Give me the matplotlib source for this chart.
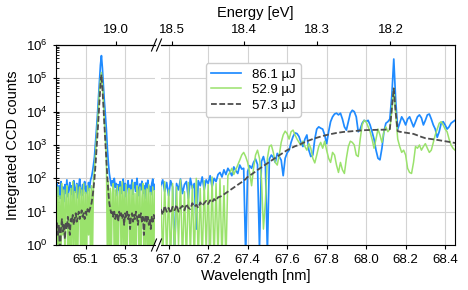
import numpy as np
import matplotlib.pyplot as plt
from matplotlib.lines import Line2D
from matplotlib.ticker import FormatStrFormatter

plt.rcParams['font.family'] = ['Liberation Sans', 'DejaVu Sans']
plt.rcParams['mathtext.fontset'] = 'custom'
plt.rcParams['mathtext.rm'] = 'Liberation Sans'
plt.rcParams['mathtext.it'] = 'Liberation Sans:italic'

# ---- data ----
# left window 64.95 .. 65.45 nm, step 0.005 nm
lam_left = np.linspace(64.95, 65.45, 101)
blue_left = [45, 70, 30, 60, 25, 80, 40, 55, 20, 65, 35, 90, 28, 50, 75, 33, 60, 22, 85, 45,
             38, 70, 26, 55, 95, 40, 30, 65, 48, 80, 35, 58, 42, 75, 50, 90,
             110, 160, 260, 450, 1200, 3000, 8000, 25000, 80000, 250000, 480000, 200000,
             60000, 20000, 8000, 3000, 800, 300, 140,
             90, 60, 85, 40, 100, 55, 70, 30, 65, 45, 80, 35, 60, 95, 42, 70, 28, 55, 85, 38,
             62, 48, 90, 33, 58, 75, 40, 100, 50, 30, 68, 45, 82, 36, 60, 25, 72, 50, 88, 40,
             58, 32, 70, 95, 45, 65]
green_left = [40, 0.3, 55, 0.5, 30, 0.3, 70, 2, 45, 0.3, 25, 60, 0.3, 35, 0.4, 50, 0.3, 80, 1, 40,
              0.3, 65, 0.3, 30, 55, 0.3, 45, 0.5, 70, 0.3, 38, 0.3, 60, 2, 50, 0.3,
              60, 0.5, 90, 200, 500, 1500, 4000, 12000, 40000, 90000, 150000, 60000,
              20000, 5000, 1500, 400, 0.5, 80, 0.3,
              50, 0.3, 35, 70, 0.3, 45, 0.4, 60, 0.3, 28, 55, 0.3, 80, 1, 40, 0.3, 65, 0.3, 30, 50,
              0.3, 45, 0.6, 75, 0.3, 35, 0.3, 60, 40, 0.3, 55, 0.3, 25, 70, 0.3, 45, 1, 50, 0.3, 65,
              0.3, 38, 0.3, 55, 0.3, 42]
gray_left = [3, 5, 2, 4, 0.5, 3, 6, 2.5, 4, 1.5, 5, 3, 7, 4, 2, 6, 5, 8, 4, 6,
             9, 5, 7, 10, 6, 8, 11, 7, 9, 6, 10, 8, 12, 9, 11, 14,
             18, 28, 50, 100, 250, 700, 2000, 6000, 20000, 60000, 130000, 50000,
             15000, 4000, 1200, 350, 110, 40, 18,
             12, 9, 11, 7, 10, 6, 9, 8, 5, 10, 7, 9, 6, 8, 4, 9, 7, 10, 6, 8,
             3, 7, 9, 5, 8, 6, 10, 7, 4, 8, 6, 9, 5, 7, 2, 6, 8, 5, 7, 4,
             6, 3, 7, 5, 8, 6]

# right window 66.96 .. 68.45 nm, step 0.01 nm
lam_right = np.linspace(66.96, 68.45, 150)
blue_right = [60, 90, 40, 75, 30, 85, 55, 0.5, 70, 45, 95, 35, 65, 80, 25, 100, 50, 70, 3, 85,
              60, 110, 45, 90, 70, 120, 55, 100, 80, 130,
              150, 110, 180, 130, 200, 160, 120, 220, 170, 140, 250, 190, 200, 0.5, 160, 240,
              200, 300, 380, 260,
              0.8, 320, 450, 250, 0.6, 380, 500, 420, 300, 560, 450, 350, 120, 400, 580, 700,
              1200, 1800, 2300, 2200,
              1800, 1200, 900, 1500, 2000, 700, 450, 500, 1500, 3000, 3500, 3200, 3000, 2000,
              1100, 2500, 5000, 7000, 8500, 9000,
              8000, 9000, 6000, 3500, 2800, 5000, 9000, 11000, 10000, 7000, 2500, 3000, 4500,
              5500, 5000, 5500, 4000, 2500, 1500, 700,
              400, 360, 800, 2500, 4500, 5000, 6000, 30000, 380000, 20000, 3000, 4500, 7000,
              5500, 4000, 6000, 7000, 5000, 3500, 5000,
              7000, 8000, 6500, 4000, 5500, 8000, 8500, 6000, 4000, 3000, 1700, 2500, 4500,
              5000, 4000, 3000, 3500, 4500, 5000, 5500]
green_right = [60, 0.3, 80, 0.4, 45, 0.3, 70, 0.3, 55, 1, 90, 0.3, 40, 0.3, 75, 0.5, 60, 0.3, 100, 0.3,
               50, 0.3, 85, 0.6, 65, 0.3, 110, 0.3, 70, 0.4, 95, 0.3, 60, 0.3, 120,
               150, 200, 130, 180, 250, 350, 500, 600, 450, 300, 150, 60, 200, 500, 700,
               400, 100, 3, 20, 400, 900, 1000, 600, 300, 250, 500, 1200, 2000, 2600, 2200,
               1500, 2500, 2800, 2000, 1500,
               1200, 1000, 1300, 900, 700, 1100, 800, 400, 290, 500, 900, 1200, 800, 1300, 700,
               400, 300, 600, 500, 250,
               150, 300, 180, 140, 400, 900, 1300, 1200, 1000, 500, 450, 1500, 4000, 5500, 5000,
               3500, 2500, 1500, 800, 1500,
               3000, 2000, 1200, 2500, 3500, 2500, 3000, 10000, 50000, 8000, 1500, 900, 600, 700,
               500, 200, 150, 140, 300, 900,
               800, 1000, 700, 900, 1100, 800, 600, 700, 1200, 2000, 3000, 4500, 5000, 4000, 3000,
               2500, 1500, 1000, 800, 700]
gray_right = [12, 8, 15, 10, 13, 9, 14, 11, 16, 10, 13, 15, 11, 17, 13, 12, 18, 14, 16, 13,
              19, 15, 18, 21, 17, 22, 19, 24, 21, 27,
              28, 30, 33, 36, 40, 44, 48, 53, 58, 64, 70, 77, 85, 95, 110, 120, 132, 145, 160, 178,
              195, 215, 235, 258, 280, 310, 340, 375, 410, 450, 490, 535, 585, 640, 700, 750, 800,
              860, 920, 960, 1000, 1080, 1150, 1230, 1300, 1370, 1440, 1510, 1580, 1650, 1720,
              1790, 1860, 1930, 2000, 2060, 2120, 2180, 2240, 2300, 2350, 2400, 2440, 2480, 2500,
              2530, 2560, 2600, 2630, 2660, 2700, 2720, 2740, 2770, 2800, 2810, 2820, 2830, 2840,
              2850, 2860, 2870, 2880, 2890, 2900, 2900, 3000, 12000, 50000, 9000, 2600, 2500, 2450,
              2400, 2350, 2300, 2250, 2200, 2150, 2050, 1950, 1850, 1750, 1680, 1600, 1570, 1540,
              1510, 1480, 1450, 1420, 1390, 1360, 1330, 1300, 1270, 1240, 1210, 1180, 1150]

labels = ['86.1 µJ', '52.9 µJ', '57.3 µJ']
left_ticks = [65.1, 65.3]
right_ticks = [67.0, 67.2, 67.4, 67.6, 67.8, 68.0, 68.2, 68.4]
ev_left = [19.0]
ev_right = [18.5, 18.4, 18.3, 18.2]

HC = 1239.84198


def nm_ev(x):
    x = np.asarray(x, dtype=float)
    with np.errstate(divide='ignore'):
        return HC / x


fig, (ax1, ax2) = plt.subplots(1, 2, sharey=True, figsize=(4.68, 2.90), dpi=100,
                               gridspec_kw={'width_ratios': [0.5, 1.49]})
fig.subplots_adjust(left=56/468, right=455/468, bottom=45/290, top=245/290, wspace=0.0305)

blue_c = '#1f8bff'
green_c = '#9ae26c'
gray_c = '#4d4d4d'

ax1.plot(lam_left, blue_left, color=blue_c, lw=1.25)
ax1.plot(lam_left, green_left, color=green_c, lw=1.1)
ax1.plot(lam_left, gray_left, color=gray_c, lw=1.3, ls='--', dashes=(3.2, 1.4))

ax2.plot(lam_right, blue_right, color=blue_c, lw=1.25, label=labels[0])
ax2.plot(lam_right, green_right, color=green_c, lw=1.1, label=labels[1])
ax2.plot(lam_right, gray_right, color=gray_c, lw=1.3, ls='--', dashes=(3.2, 1.4), label=labels[2])

for ax in (ax1, ax2):
    ax.set_yscale('log')
    ax.grid(True, which='major', color='#d3d3d3', lw=0.8)
    ax.set_axisbelow(True)
    ax.tick_params(axis='x', labelsize=9.5, length=3, direction='out')
    for s in ax.spines.values():
        s.set_linewidth(0.8)

ax1.set_ylim(1, 1e6)
ax1.set_xlim(64.95, 65.45)
ax2.set_xlim(66.96, 68.45)
ax1.set_xticks(left_ticks)
ax2.set_xticks(right_ticks)
ax1.xaxis.set_major_formatter(FormatStrFormatter('%.1f'))
ax2.xaxis.set_major_formatter(FormatStrFormatter('%.1f'))
ax1.tick_params(axis='y', which='major', labelsize=9.5, direction='inout', length=5)
ax1.tick_params(axis='y', which='minor', direction='in', length=2)
ax1.spines['right'].set_visible(False)
ax2.spines['left'].set_visible(False)
ax2.tick_params(axis='y', which='both', left=False, labelleft=False)

sx1 = ax1.secondary_xaxis('top', functions=(nm_ev, nm_ev))
sx1.set_xticks(ev_left)
sx2 = ax2.secondary_xaxis('top', functions=(nm_ev, nm_ev))
sx2.set_xticks(ev_right)
for sx in (sx1, sx2):
    sx.xaxis.set_major_formatter(FormatStrFormatter('%.1f'))
    sx.tick_params(labelsize=9.5, length=3)
    sx.spines['top'].set_linewidth(0.8)

ax2.legend(loc='upper left', bbox_to_anchor=(0.153, 0.91), borderaxespad=0,
           fontsize=9.5, labelspacing=0.25, handlelength=2.3, handletextpad=0.8,
           framealpha=1, edgecolor='#cccccc')

# break marks
for yy in (45, 245):
    for xc in (154, 159):
        fig.add_artist(Line2D([(xc - 2.5) / 468, (xc + 2.5) / 468],
                              [1 - (yy + 6) / 290, 1 - (yy - 6) / 290],
                              transform=fig.transFigure, color='black', lw=0.8))

fig.text(255.5 / 468, 1 - 13 / 290, 'Energy [eV]', ha='center', va='center', fontsize=10.5)
fig.text(255.5 / 468, 1 - 276 / 290, 'Wavelength [nm]', ha='center', va='center', fontsize=10.5)
fig.text(13 / 468, 0.5, 'Integrated CCD counts', rotation=90,
         ha='center', va='center', fontsize=10.5)

fig.savefig('out.png', dpi=100)
